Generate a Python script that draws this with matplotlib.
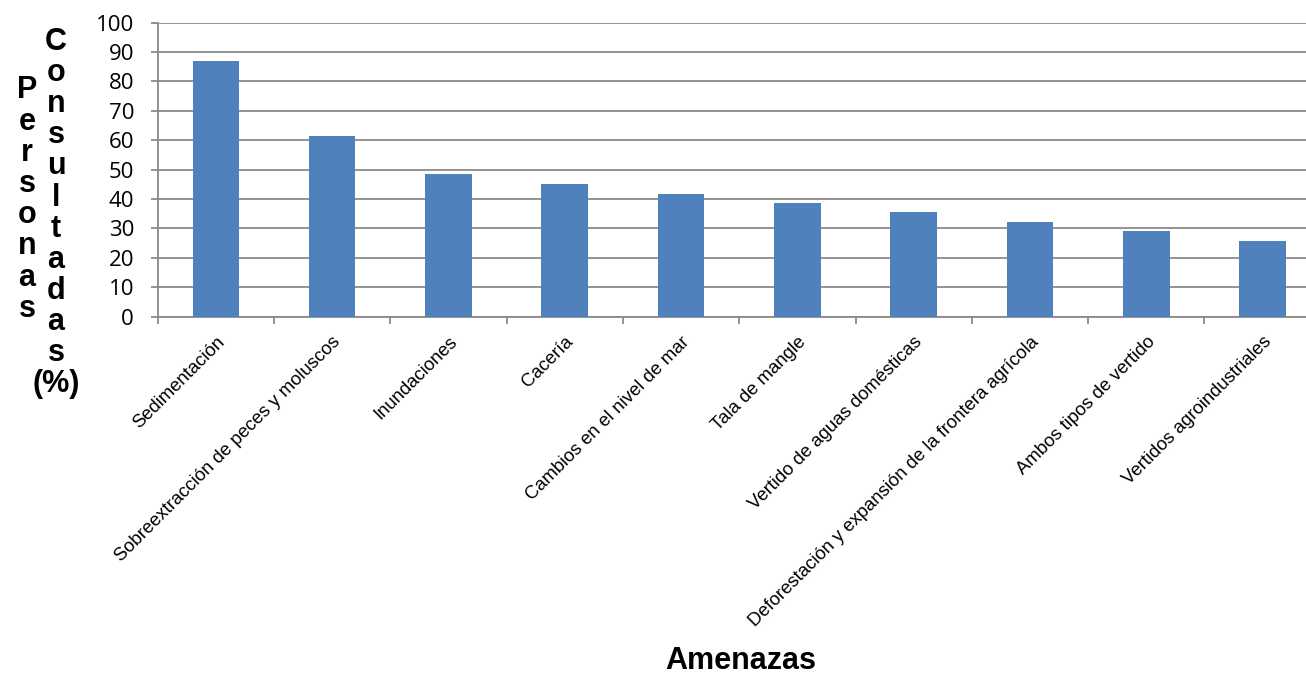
import matplotlib
matplotlib.use("Agg")
import matplotlib.pyplot as plt
import numpy as np

# datos
amenazas = [
    "Sedimentación",
    "Sobreextracción de peces y moluscos",
    "Inundaciones",
    "Cacería",
    "Cambios en el nivel de mar",
    "Tala de mangle",
    "Vertido de aguas domésticas",
    "Deforestación y expansión de la frontera agrícola",
    "Ambos tipos de vertido",
    "Vertidos agroindustriales",
]
porcentaje = [87.1, 61.3, 48.4, 45.2, 41.9, 38.7, 35.5, 32.3, 29.0, 25.8]
yticks = [0, 10, 20, 30, 40, 50, 60, 70, 80, 90, 100]

W, H = 1306, 676
fig = plt.figure(figsize=(W / 100, H / 100), dpi=100)

# eje (el borde derecho queda recortado como en la imagen original)
left, right, top, bottom = 157.7, 1320.7, 22.7, 316.7
ax = fig.add_axes([left / W, 1 - bottom / H, (right - left) / W, (bottom - top) / H])

x = np.arange(len(amenazas))
ax.bar(x, porcentaje, width=0.4, color="#4F81BD", zorder=3)

ax.set_xlim(-0.5, len(amenazas) - 0.5)
ax.set_ylim(0, 100)
ax.set_yticks(yticks)
ax.yaxis.grid(True, color="#8a8a8a", linewidth=1.3, zorder=0)

for s in ["top", "right"]:
    ax.spines[s].set_visible(False)
for s in ["left", "bottom"]:
    ax.spines[s].set_color("#8a8a8a")
    ax.spines[s].set_linewidth(1.3)

ax.tick_params(axis="y", length=5, width=1.3, color="#8a8a8a", pad=12,
               labelsize=16, labelcolor="black")
for lab in ax.get_yticklabels():
    lab.set_fontfamily("Open Sans")

# etiquetas de categoria centradas, marcas en los limites
ax.set_xticks(x)
ax.set_xticklabels(amenazas, rotation=45, ha="right", rotation_mode="anchor",
                   fontsize=13.3, fontfamily="Liberation Sans")
ax.tick_params(axis="x", which="major", length=0, pad=12)
ax.set_xticks(np.arange(len(amenazas) + 1) - 0.5, minor=True)
ax.tick_params(axis="x", which="minor", length=5, width=1.3, color="#8a8a8a")

# titulo del eje y, letra por letra
def columna(texto, xc, y_base0, paso):
    for i, ch in enumerate(texto):
        fig.text(xc / W, 1 - (y_base0 + i * paso) / H, ch, ha="center",
                 va="baseline", fontsize=22, fontweight="bold",
                 fontfamily="Liberation Sans")

columna(list("Personas"), 27, 98.3, 31.2)
columna(list("Consultadas") + ["(%)"], 56, 50, 31.1)

fig.text(741 / W, 1 - 669 / H, "Amenazas", ha="center", va="baseline",
         fontsize=22, fontweight="bold", fontfamily="Liberation Sans")

fig.savefig("out.png", dpi=100)
